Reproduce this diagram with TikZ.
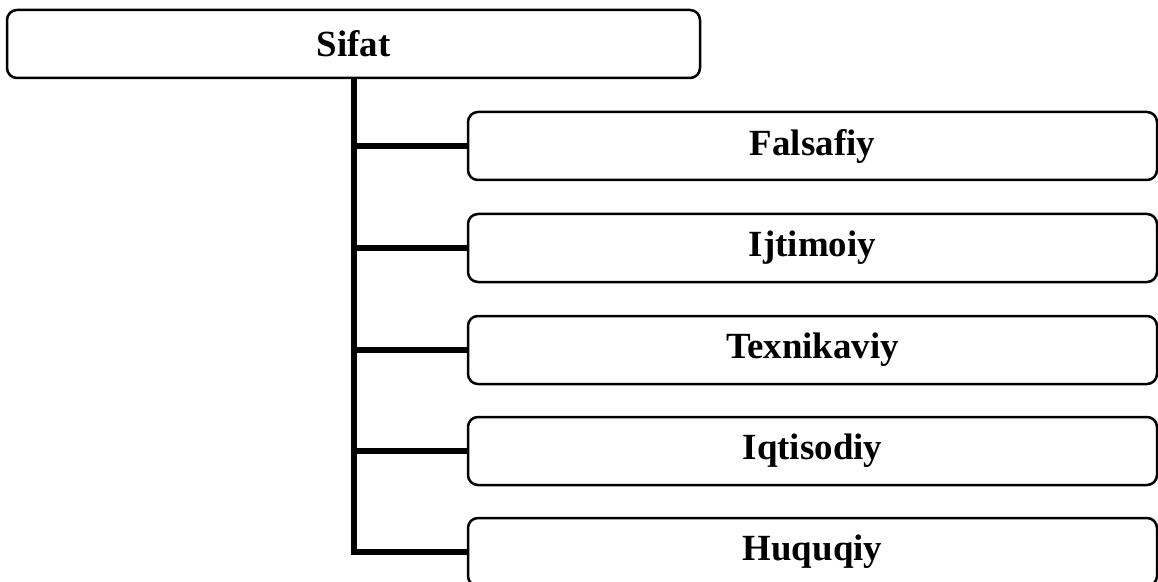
\documentclass[tikz,border=0pt]{standalone}
\usepackage{fontspec}
\setmainfont{Liberation Serif}
\usetikzlibrary{calc}
\begin{document}
\begin{tikzpicture}

	%ESTILOS
	\tikzstyle{every node}=[font=\fontsize{21}{25}\selectfont\bfseries]
	\tikzstyle{caja} = [draw, rounded corners=0.2cm, align=center, line width=0.5mm, minimum height=1.36cm, inner sep=0pt]
	\tikzstyle{hijo} = [caja, minimum width=13.78cm]
	\tikzstyle{linea} = [line width=1.2mm, line join=miter]

	\useasboundingbox (0,0) rectangle (23.16,-11.64);

	%CAJAS
	\draw(7.07,-0.88) node[caja, minimum width=13.86cm](sifat){Sifat};
	\draw(16.25,-2.92) node[hijo](falsafiy){Falsafiy};
	\draw(16.25,-4.96) node[hijo](ijtimoiy){Ijtimoiy};
	\draw(16.25,-7.00) node[hijo](texnikaviy){Texnikaviy};
	\draw(16.25,-9.02) node[hijo](iqtisodiy){Iqtisodiy};
	\draw(16.25,-11.04) node[hijo](huquqiy){Huquqiy};

	%LINEAS
	\draw [linea] (sifat.south) |- (huquqiy.west);	%TRONCO
	\draw [linea] (falsafiy.west) -- (falsafiy.west -| sifat.south);
	\draw [linea] (ijtimoiy.west) -- (ijtimoiy.west -| sifat.south);
	\draw [linea] (texnikaviy.west) -- (texnikaviy.west -| sifat.south);
	\draw [linea] (iqtisodiy.west) -- (iqtisodiy.west -| sifat.south);
\end{tikzpicture}
\end{document}
